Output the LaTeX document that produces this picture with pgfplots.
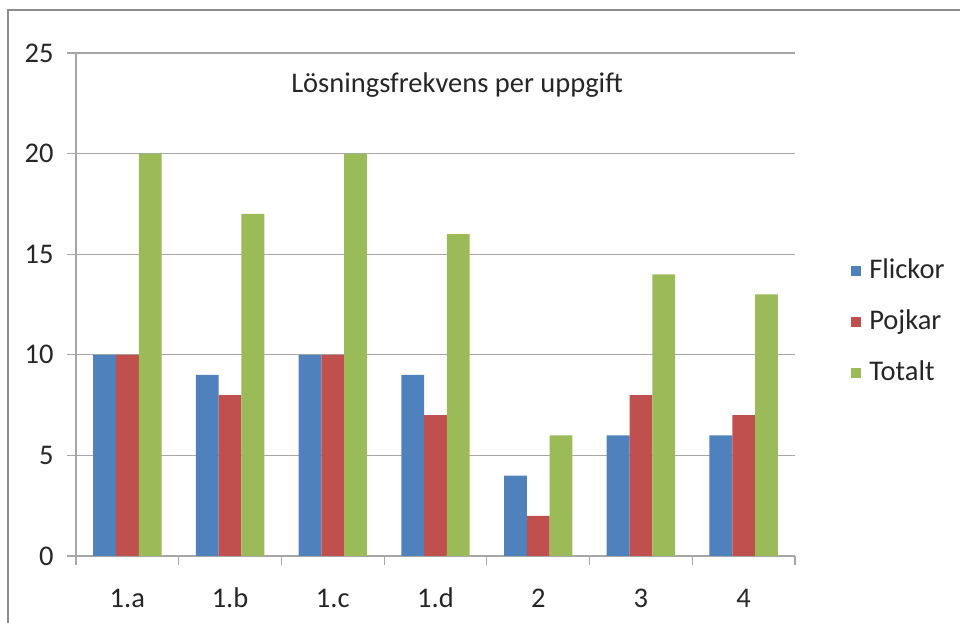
\documentclass[border=0pt]{standalone}
\usepackage{pgfplots}
\pgfplotsset{compat=1.18}
\usepackage{fontspec}
\setmainfont{Carlito}
\definecolor{cblue}{HTML}{4F81BD}
\definecolor{cred}{HTML}{C0504D}
\definecolor{cgreen}{HTML}{9BBB59}
\definecolor{gridc}{HTML}{A6A6A6}
\definecolor{framec}{HTML}{8C8C8C}
\begin{document}
\begin{tikzpicture}[x=1bp,y=1bp,font=\fontsize{28.5bp}{34bp}\selectfont]
\useasboundingbox (0,0) rectangle (960,623);
\draw[framec,line width=2.2bp] (8,-5) -- (8,613) -- (970,613);
\begin{axis}[
  at={(76bp,67bp)}, anchor=south west,
  scale only axis, width=719bp, height=503bp,
  ybar=0pt, bar width=22.8bp,
  xmin=-0.5, xmax=6.5, ymin=0, ymax=25,
  ytick={0,5,10,15,20,25},
  xtick={0,1,2,3,4,5,6},
  xticklabels={1.a,1.b,1.c,1.d,2,3,4},
  minor xtick={-0.5,0.5,1.5,2.5,3.5,4.5,5.5,6.5},
  major x tick style={draw=none},
  axis x line*=bottom, axis y line*=left,
  axis line style={gridc, line width=1.2bp, -},
  tick style={gridc, line width=1.2bp},
  tick align=outside,
  major tick length=9bp, minor tick length=9bp,
  ymajorgrids, grid style={gridc, line width=1.2bp},
  /pgf/number format/assume math mode=true,
  tick label style={font=\fontsize{28.5bp}{34bp}\selectfont, text=black!85},
  yticklabel style={xshift=-10bp},
  xticklabel style={text height=20bp, text depth=6bp, yshift=-19bp},
  legend style={at={(axis description cs:1.078,0.465)}, anchor=west, draw=none, fill=none,
    inner sep=0pt, row sep=21bp, font=\fontsize{28.5bp}{34bp}\selectfont, text=black!85,
    nodes={inner xsep=8bp, text height=20bp, text depth=6bp}},
  legend cell align=left,
  legend image code/.code={\fill[#1] (0bp,-5bp) rectangle (10bp,5bp);},
]
\addplot[fill=cblue, draw=none] coordinates {(0,10) (1,9) (2,10) (3,9) (4,4) (5,6) (6,6)};
\addplot[fill=cred, draw=none] coordinates {(0,10) (1,8) (2,10) (3,7) (4,2) (5,8) (6,7)};
\addplot[fill=cgreen, draw=none] coordinates {(0,20) (1,17) (2,20) (3,16) (4,6) (5,14) (6,13)};
\legend{Flickor,Pojkar,Totalt}
\node[text=black!85] at (axis description cs:0.53,0.936) {Lösningsfrekvens per uppgift};
\end{axis}
\end{tikzpicture}
\end{document}
